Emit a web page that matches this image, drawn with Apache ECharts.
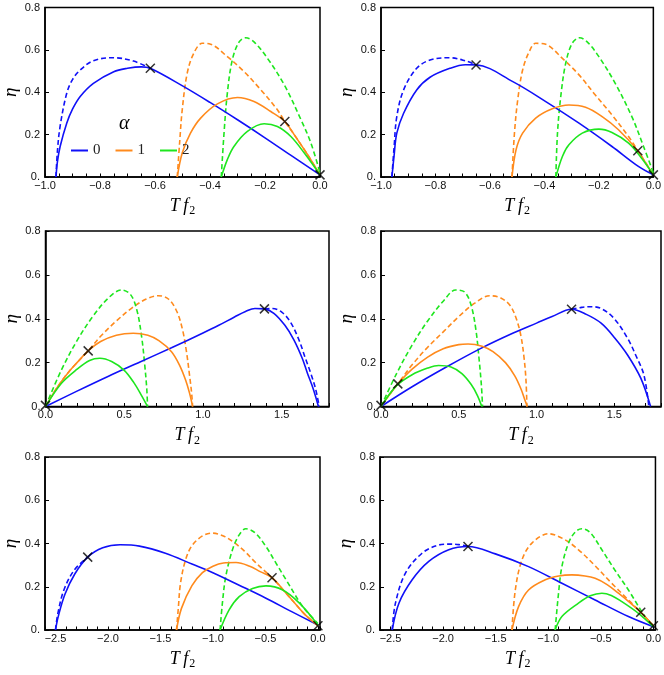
<!DOCTYPE html>
<html><head><meta charset="utf-8">
<script src="https://cdn.jsdelivr.net/npm/echarts/dist/echarts.min.js"></script>
<style>html,body{margin:0;padding:0;background:#fff}#c{width:664px;height:675px}</style>
</head><body><div id="c"></div>
<script>
// ---------- tick labels ----------
const yTicks = [0, 0.2, 0.4, 0.6, 0.8];
const legendNames = ['0', '1', '2'];
const legendTitle = 'α';

// ---------- Panel 1 (top-left) ----------
const p1BlueDash = [[-0.96,0],[-0.955,0.12],[-0.945,0.24],[-0.921,0.395],[-0.9,0.46],[-0.872,0.505],[-0.824,0.549],[-0.75,0.563],[-0.678,0.547],[-0.617,0.513]];
const p1BlueSolid = [[-0.96,0],[-0.955,0.07],[-0.945,0.144],[-0.921,0.254],[-0.9,0.32],[-0.872,0.38],[-0.824,0.442],[-0.75,0.497],[-0.7,0.513],[-0.65,0.52],[-0.617,0.513],[-0.5,0.43],[-0.4,0.352],[-0.3,0.27],[-0.2,0.185],[-0.1,0.097],[0,0.01]];
const p1OrangeDash = [[-0.519,0],[-0.51,0.17],[-0.501,0.317],[-0.483,0.489],[-0.459,0.584],[-0.428,0.631],[-0.398,0.627],[-0.337,0.568],[-0.276,0.497],[-0.215,0.411],[-0.155,0.317],[-0.128,0.262],[-0.094,0.2],[-0.045,0.105],[0,0.01]];
const p1OrangeSolid = [[-0.519,0],[-0.501,0.113],[-0.471,0.207],[-0.434,0.278],[-0.373,0.345],[-0.3,0.375],[-0.24,0.356],[-0.179,0.309],[-0.128,0.262],[-0.094,0.2],[-0.045,0.105],[0,0.01]];
const p1GreenDash = [[-0.359,0],[-0.349,0.207],[-0.337,0.395],[-0.319,0.552],[-0.294,0.638],[-0.27,0.657],[-0.24,0.638],[-0.191,0.56],[-0.13,0.435],[-0.069,0.27],[-0.033,0.16],[0,0.02]];
const p1GreenSolid = [[-0.359,0],[-0.337,0.082],[-0.313,0.144],[-0.264,0.215],[-0.203,0.251],[-0.155,0.238],[-0.106,0.191],[-0.057,0.113],[0,0.01]];
const p1Marks = [[-0.617,0.513],[-0.128,0.262],[0,0.01]];

// ---------- Panel 2 (top-right) ----------
const p2BlueDash = [[-0.96,0],[-0.952,0.14],[-0.942,0.285],[-0.917,0.411],[-0.869,0.513],[-0.82,0.552],[-0.747,0.563],[-0.687,0.547],[-0.65,0.529]];
const p2BlueSolid = [[-0.96,0],[-0.952,0.1],[-0.942,0.207],[-0.917,0.301],[-0.869,0.411],[-0.82,0.471],[-0.747,0.513],[-0.69,0.53],[-0.65,0.529],[-0.516,0.45],[-0.395,0.356],[-0.273,0.254],[-0.152,0.144],[-0.055,0.05],[0,0.01]];
const p2OrangeDash = [[-0.519,0],[-0.51,0.207],[-0.498,0.364],[-0.48,0.505],[-0.456,0.591],[-0.432,0.631],[-0.395,0.626],[-0.334,0.56],[-0.273,0.482],[-0.213,0.387],[-0.152,0.293],[-0.091,0.191],[-0.057,0.124],[-0.025,0.06],[0,0.01]];
const p2OrangeSolid = [[-0.519,0],[-0.504,0.129],[-0.48,0.207],[-0.432,0.278],[-0.371,0.322],[-0.31,0.34],[-0.249,0.329],[-0.188,0.285],[-0.128,0.223],[-0.057,0.124],[-0.025,0.06],[0,0.01]];
const p2GreenDash = [[-0.358,0],[-0.352,0.207],[-0.34,0.38],[-0.322,0.536],[-0.298,0.631],[-0.271,0.657],[-0.243,0.638],[-0.2,0.568],[-0.14,0.442],[-0.079,0.285],[-0.036,0.144],[0,0.02]];
const p2GreenSolid = [[-0.358,0],[-0.334,0.097],[-0.31,0.152],[-0.261,0.207],[-0.2,0.226],[-0.152,0.21],[-0.091,0.16],[-0.043,0.089],[0,0.01]];
const p2Marks = [[-0.651,0.529],[-0.057,0.124],[0,0.01]];

// ---------- Panel 3 (middle-left) ----------
const p3BlueDash = [[1.39,0.445],[1.44,0.447],[1.5,0.43],[1.555,0.385],[1.609,0.304],[1.65,0.22],[1.684,0.152],[1.715,0.08],[1.738,0]];
const p3BlueSolid = [[0,0],[0.2,0.07],[0.4,0.138],[0.6,0.203],[0.8,0.268],[1.0,0.335],[1.1,0.37],[1.2,0.408],[1.27,0.433],[1.33,0.447],[1.39,0.445],[1.45,0.425],[1.52,0.37],[1.577,0.304],[1.63,0.22],[1.663,0.152],[1.7,0.08],[1.733,0]];
const p3OrangeDash = [[0,0],[0.05,0.06],[0.1,0.113],[0.15,0.16],[0.2,0.2],[0.271,0.2535],[0.35,0.32],[0.45,0.39],[0.55,0.45],[0.64,0.49],[0.716,0.505],[0.78,0.49],[0.834,0.433],[0.87,0.35],[0.895,0.25],[0.915,0.14],[0.928,0.06],[0.934,0]];
const p3OrangeSolid = [[0,0],[0.05,0.06],[0.1,0.113],[0.15,0.16],[0.2,0.2],[0.271,0.2535],[0.35,0.296],[0.45,0.325],[0.557,0.334],[0.65,0.325],[0.72,0.3],[0.8,0.25],[0.85,0.19],[0.89,0.12],[0.915,0.06],[0.934,0]];
const p3GreenDash = [[0,0],[0.1,0.165],[0.2,0.3],[0.3,0.41],[0.4,0.495],[0.483,0.531],[0.54,0.51],[0.58,0.44],[0.61,0.32],[0.63,0.19],[0.643,0.08],[0.648,0]];
const p3GreenSolid = [[0,0],[0.1,0.105],[0.2,0.17],[0.28,0.21],[0.345,0.22],[0.42,0.205],[0.5,0.165],[0.56,0.11],[0.61,0.05],[0.648,0]];
const p3Marks = [[1.39,0.445],[0.271,0.2535],[0,0.005]];

// ---------- Panel 4 (middle-right) ----------
const p4BlueDash = [[1.225,0.443],[1.29,0.452],[1.352,0.455],[1.42,0.445],[1.5,0.4],[1.585,0.311],[1.64,0.23],[1.69,0.144],[1.722,0]];
const p4BlueSolid = [[0,0],[0.2,0.09],[0.42,0.18],[0.642,0.265],[0.85,0.335],[1.0,0.38],[1.1,0.41],[1.225,0.443],[1.32,0.42],[1.415,0.38],[1.5,0.315],[1.585,0.235],[1.67,0.129],[1.733,0]];
const p4OrangeDash = [[0,0],[0.05,0.05],[0.108,0.103],[0.2,0.19],[0.3,0.27],[0.4,0.34],[0.5,0.41],[0.6,0.47],[0.7,0.505],[0.77,0.495],[0.83,0.46],[0.87,0.4],[0.9,0.32],[0.92,0.22],[0.932,0.12],[0.938,0]];
const p4OrangeSolid = [[0,0],[0.05,0.05],[0.108,0.103],[0.2,0.17],[0.3,0.225],[0.4,0.263],[0.5,0.282],[0.56,0.285],[0.65,0.275],[0.72,0.25],[0.8,0.2],[0.86,0.14],[0.9,0.08],[0.925,0.03],[0.94,0]];
const p4GreenDash = [[0,0],[0.1,0.15],[0.2,0.28],[0.3,0.39],[0.4,0.48],[0.48,0.531],[0.54,0.52],[0.58,0.46],[0.61,0.35],[0.63,0.22],[0.645,0.1],[0.653,0]];
const p4GreenSolid = [[0,0],[0.1,0.095],[0.2,0.145],[0.3,0.175],[0.37,0.187],[0.45,0.18],[0.52,0.15],[0.58,0.1],[0.62,0.05],[0.648,0]];
const p4Marks = [[1.225,0.443],[0.108,0.103],[0,0.005]];

// ---------- Panel 5 (bottom-left) ----------
const p5BlueDash = [[-2.5,0],[-2.478,0.075],[-2.42,0.185],[-2.32,0.278],[-2.193,0.337]];
const p5BlueSolid = [[-2.5,0],[-2.474,0.062],[-2.41,0.165],[-2.315,0.26],[-2.193,0.337],[-2.05,0.38],[-1.884,0.394],[-1.7,0.388],[-1.453,0.355],[-1.2,0.305],[-1.006,0.266],[-0.75,0.207],[-0.495,0.147],[-0.25,0.085],[0,0.023]];
const p5OrangeDash = [[-1.347,0],[-1.33,0.1],[-1.309,0.216],[-1.261,0.324],[-1.2,0.39],[-1.1,0.435],[-1.006,0.448],[-0.9,0.435],[-0.8,0.405],[-0.7,0.365],[-0.6,0.315],[-0.5,0.27],[-0.437,0.242],[-0.33,0.185],[-0.24,0.135],[-0.12,0.07],[0,0.02]];
const p5OrangeSolid = [[-1.347,0],[-1.3,0.1],[-1.2,0.205],[-1.1,0.265],[-1.0,0.295],[-0.9,0.31],[-0.78,0.312],[-0.65,0.295],[-0.55,0.27],[-0.437,0.242],[-0.33,0.185],[-0.24,0.135],[-0.12,0.07],[0,0.02]];
const p5GreenDash = [[-0.932,0],[-0.91,0.124],[-0.878,0.247],[-0.814,0.371],[-0.75,0.44],[-0.686,0.468],[-0.6,0.45],[-0.495,0.386],[-0.4,0.31],[-0.303,0.232],[-0.144,0.108],[0,0.03]];
const p5GreenSolid = [[-0.932,0],[-0.846,0.093],[-0.75,0.154],[-0.623,0.192],[-0.495,0.204],[-0.335,0.185],[-0.176,0.124],[0,0.023]];
const p5Marks = [[-2.193,0.337],[-0.437,0.242],[0,0.02]];

// ---------- Panel 6 (bottom-right) ----------
const p6BlueDash = [[-2.484,0],[-2.453,0.124],[-2.358,0.263],[-2.2,0.355],[-2.05,0.392],[-1.946,0.397],[-1.85,0.395],[-1.763,0.386]];
const p6BlueSolid = [[-2.484,0],[-2.42,0.124],[-2.294,0.232],[-2.136,0.317],[-1.946,0.371],[-1.763,0.386],[-1.503,0.352],[-1.187,0.293],[-0.87,0.216],[-0.554,0.139],[-0.237,0.062],[0,0.015]];
const p6OrangeDash = [[-1.345,0],[-1.313,0.185],[-1.25,0.324],[-1.155,0.402],[-0.997,0.445],[-0.85,0.42],[-0.712,0.371],[-0.55,0.295],[-0.396,0.216],[-0.25,0.145],[-0.12,0.082],[0,0.02]];
const p6OrangeSolid = [[-1.345,0],[-1.282,0.108],[-1.187,0.185],[-1.028,0.232],[-0.9,0.25],[-0.775,0.255],[-0.65,0.25],[-0.554,0.239],[-0.44,0.21],[-0.332,0.17],[-0.22,0.125],[-0.12,0.082],[0,0.02]];
const p6GreenDash = [[-0.934,0],[-0.902,0.17],[-0.87,0.293],[-0.807,0.402],[-0.74,0.455],[-0.68,0.468],[-0.6,0.45],[-0.49,0.371],[-0.37,0.28],[-0.237,0.185],[-0.079,0.062],[0,0.02]];
const p6GreenSolid = [[-0.934,0],[-0.87,0.062],[-0.712,0.124],[-0.6,0.158],[-0.49,0.17],[-0.4,0.16],[-0.3,0.131],[-0.142,0.077],[0,0.015]];
const p6Marks = [[-1.763,0.386],[-0.12,0.082],[0,0.02]];

// ---------- assembly ----------
const COLORS = {blue:'#1010f8', orange:'#ff8a1c', green:'#1ee61e'};
const panels = [
  {grid:{left:45, top:7.5, width:275, height:169.5}, x:[-1,0,0.05,0.2],
   curves:[p1BlueDash,p1OrangeDash,p1GreenDash,p1BlueSolid,p1OrangeSolid,p1GreenSolid], marks:p1Marks},
  {grid:{left:381, top:7.5, width:274, height:169.5}, x:[-1,0,0.05,0.2],
   curves:[p2BlueDash,p2OrangeDash,p2GreenDash,p2BlueSolid,p2OrangeSolid,p2GreenSolid], marks:p2Marks},
  {grid:{left:45.5, top:231, width:283.5, height:175.5}, x:[0,1.8,0.1,0.5],
   curves:[p3BlueDash,p3OrangeDash,p3GreenDash,p3BlueSolid,p3OrangeSolid,p3GreenSolid], marks:p3Marks},
  {grid:{left:381, top:231, width:282, height:175.5}, x:[0,1.8,0.1,0.5],
   curves:[p4BlueDash,p4OrangeDash,p4GreenDash,p4BlueSolid,p4OrangeSolid,p4GreenSolid], marks:p4Marks},
  {grid:{left:45, top:457, width:275, height:173}, x:[-2.6,0.02,0.1,0.5],
   curves:[p5BlueDash,p5OrangeDash,p5GreenDash,p5BlueSolid,p5OrangeSolid,p5GreenSolid], marks:p5Marks},
  {grid:{left:380, top:457, width:276, height:173}, x:[-2.6,0.02,0.1,0.5],
   curves:[p6BlueDash,p6OrangeDash,p6GreenDash,p6BlueSolid,p6OrangeSolid,p6GreenSolid], marks:p6Marks}
];

const grids = [], xAxes = [], yAxes = [], series = [];
const tickFont = {fontSize:11, fontFamily:'Liberation Sans', color:'#111'};
const colorOrder = [COLORS.blue, COLORS.orange, COLORS.green];
panels.forEach((p, gi) => {
  grids.push(Object.assign({show:true, borderColor:'#000', borderWidth:1.5, backgroundColor:'transparent'}, p.grid));
  const [mn, mx, step, lab] = p.x;
  xAxes.push({
    type:'value', gridIndex:gi, min:mn, max:mx, interval:step,
    axisLine:{show:true, onZero:false, lineStyle:{color:'#000', width:1.5}},
    axisTick:{show:true, inside:true, length:3.5, lineStyle:{color:'#000', width:1}},
    splitLine:{show:false},
    axisLabel:Object.assign({margin:3, formatter:v => {
      const r = v / lab;
      if (Math.abs(r - Math.round(r)) > 1e-6) return '';
      const s = Math.abs(v).toFixed(1);
      return (v < -1e-9 ? '\u2212' : '') + s;
    }}, tickFont),
    name:'{i|T\u2009f}{s|2}', nameLocation:'middle', nameGap:19,
    nameTextStyle:{rich:{
      i:{fontFamily:'Liberation Serif', fontStyle:'italic', fontSize:18, color:'#000', lineHeight:20},
      s:{fontFamily:'Liberation Serif', fontSize:12, color:'#000', lineHeight:12, padding:[10,0,0,1]}
    }}
  });
  yAxes.push({
    type:'value', gridIndex:gi, min:yTicks[0], max:yTicks[yTicks.length-1], interval:yTicks[1]-yTicks[0],
    axisLine:{show:true, onZero:false, lineStyle:{color:'#000', width:1.5}},
    axisTick:{show:true, inside:true, length:4, lineStyle:{color:'#000', width:1}},
    splitLine:{show:false},
    axisLabel:Object.assign({margin:5, formatter:v => Math.abs(v) < 1e-9 ? '0.' : v.toFixed(1)}, tickFont),
    name:'η', nameLocation:'middle', nameRotate:90, nameGap:23,
    nameTextStyle:{fontFamily:'Liberation Serif', fontStyle:'italic', fontSize:19, color:'#000'}
  });
  p.curves.forEach((data, ci) => {
    const dashed = ci < 3;
    const col = colorOrder[ci % 3];
    series.push({
      type:'line', name: (gi === 0 && !dashed) ? legendNames[ci - 3] : ('p' + gi + '_' + ci),
      xAxisIndex:gi, yAxisIndex:gi, data, symbol:'none', showSymbol:false,
      smooth:0.35, clip:true,
      lineStyle:{color:col, width:1.6, type: dashed ? [5,3] : 'solid'},
      itemStyle:{color:col}, z: dashed ? 2 : 3, silent:true
    });
  });
  series.push({
    type:'scatter', name:'m' + gi, xAxisIndex:gi, yAxisIndex:gi, data:p.marks,
    symbol:'path://M0,0L10,10M10,0L0,10', symbolSize:9,
    itemStyle:{color:'rgba(0,0,0,0)', borderColor:'#000', borderWidth:1.5}, z:5, silent:true
  });
});

const chart = echarts.init(document.getElementById('c'), null, {renderer:'canvas'});
chart.setOption({
  animation:false,
  backgroundColor:'#fff',
  grid:grids, xAxis:xAxes, yAxis:yAxes, series,
  legend:{data:legendNames, left:66, top:138, icon:'rect', itemWidth:17, itemHeight:2, itemGap:15,
    selectedMode:false, textStyle:{fontFamily:'Liberation Serif', fontSize:15, color:'#222'}},
  graphic:[{type:'text', left:119, top:114, style:{text:legendTitle, font:'italic 20px "Liberation Serif"', fill:'#000'}}]
});
</script></body></html>
